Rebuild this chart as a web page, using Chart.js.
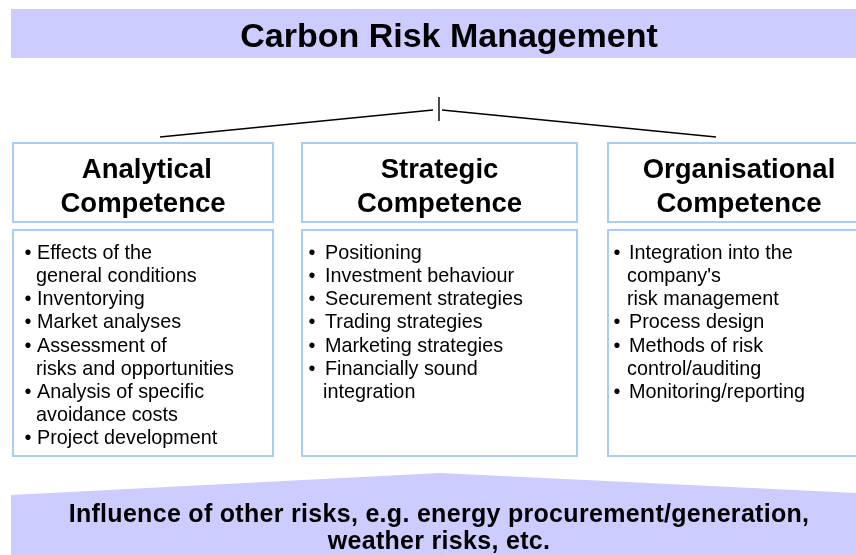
<!DOCTYPE html>
<html>
<head>
<meta charset="utf-8">
<script src="https://cdn.jsdelivr.net/npm/chart.js@4.4.1/dist/chart.umd.min.js"></script>
<style>
  html, body { margin: 0; padding: 0; background: #fff; }
  canvas { display: block; }
</style>
</head>
<body>
<canvas id="chart" width="856" height="555"></canvas>
<script>
// content
const title = 'Carbon Risk Management';
const headings = [
  [' Analytical', 'Competence'],
  ['Strategic', 'Competence'],
  ['Organisational', 'Competence']
];
const analyticalItems = [
  ['Effects of the', 'general conditions'],
  ['Inventorying'],
  ['Market analyses'],
  ['Assessment of', 'risks and opportunities'],
  ['Analysis of specific', 'avoidance costs'],
  ['Project development']
];
const strategicItems = [
  ['Positioning'],
  ['Investment behaviour'],
  ['Securement strategies'],
  ['Trading strategies'],
  ['Marketing strategies'],
  ['Financially sound', 'integration']
];
const organisationalItems = [
  ['Integration into the', "company's", 'risk management'],
  ['Process design'],
  ['Methods of risk', 'control/auditing'],
  ['Monitoring/reporting']
];
const footer = ['Influence of other risks, e.g. energy procurement/generation,', 'weather risks, etc.'];

// layout (diagram units = pixels of the 856x555 picture)
const layout = {
  band: { x0: 11, x1: 856, y0: 9, y1: 58 },
  cols: [
    { x0: 13, x1: 273, bullet: 28, text: 37, wrap: 36 },
    { x0: 302, x1: 577, bullet: 312, text: 325, wrap: 323 },
    { x0: 608, x1: 872, bullet: 617, text: 629, wrap: 627 }
  ],
  head: { y0: 143, y1: 222 },
  body: { y0: 230, y1: 456 },
  firstLine: 259, lineStep: 23.15,
  footerShape: [[11, 555], [11, 495], [440, 473], [856, 493], [856, 555]],
  connectors: [
    [[160, 137], [433, 110]],
    [[442, 110], [716, 137]],
    [[439, 97], [439, 121]]
  ]
};

const colItems = [analyticalItems, strategicItems, organisationalItems];

const diagramPlugin = {
  id: 'diagram',
  beforeDatasetsDraw(chart) {
    const ctx = chart.ctx;
    const sx = v => chart.scales.x.getPixelForValue(v);
    const sy = v => chart.scales.y.getPixelForValue(v);
    ctx.save();

    // title band
    const b = layout.band;
    ctx.fillStyle = '#ccccff';
    ctx.fillRect(sx(b.x0), sy(b.y0), sx(b.x1) - sx(b.x0), sy(b.y1) - sy(b.y0));
    ctx.fillStyle = '#000';
    ctx.textAlign = 'center';
    ctx.textBaseline = 'alphabetic';
    ctx.font = 'bold 34px "Liberation Sans", Arial, sans-serif';
    ctx.fillText(title, sx(449), sy(47));

    // boxes
    ctx.strokeStyle = '#a8cdf8';
    ctx.lineWidth = 2;
    layout.cols.forEach((c, i) => {
      ctx.strokeRect(sx(c.x0), sy(layout.head.y0), sx(c.x1) - sx(c.x0), sy(layout.head.y1) - sy(layout.head.y0));
      ctx.strokeRect(sx(c.x0), sy(layout.body.y0), sx(c.x1) - sx(c.x0), sy(layout.body.y1) - sy(layout.body.y0));

      const cx = (c.x0 + Math.min(c.x1, 870)) / 2;
      ctx.fillStyle = '#000';
      ctx.textAlign = 'center';
      ctx.font = 'bold 27.5px "Liberation Sans", Arial, sans-serif';
      ctx.fillText(headings[i][0], sx(cx), sy(178));
      ctx.fillText(headings[i][1], sx(cx), sy(212));

      ctx.textAlign = 'left';
      ctx.font = '19.8px "Liberation Sans", Arial, sans-serif';
      let line = 0;
      colItems[i].forEach(item => {
        item.forEach((t, k) => {
          const y = sy(layout.firstLine + line * layout.lineStep);
          if (k === 0) {
            ctx.textAlign = 'center';
            ctx.fillText('\u2022', sx(c.bullet), y);
            ctx.textAlign = 'left';
            ctx.fillText(t, sx(c.text), y);
          } else {
            ctx.fillText(t, sx(c.wrap), y);
          }
          line++;
        });
      });
    });

    // footer shape
    ctx.fillStyle = '#ccccff';
    ctx.beginPath();
    layout.footerShape.forEach((p, i) => {
      if (i === 0) ctx.moveTo(sx(p[0]), sy(p[1]));
      else ctx.lineTo(sx(p[0]), sy(p[1]));
    });
    ctx.closePath();
    ctx.fill();
    ctx.fillStyle = '#000';
    ctx.textAlign = 'center';
    ctx.font = 'bold 25px "Liberation Sans", Arial, sans-serif';
    ctx.letterSpacing = '0.3px';
    ctx.fillText(footer[0], sx(439), sy(522));
    ctx.fillText(footer[1], sx(439), sy(549));
    ctx.restore();
  }
};

new Chart(document.getElementById('chart'), {
  type: 'scatter',
  data: {
    datasets: layout.connectors.map(seg => ({
      data: seg.map(p => ({ x: p[0], y: p[1] })),
      showLine: true,
      borderColor: '#000',
      borderWidth: 1.4,
      pointRadius: 0
    }))
  },
  options: {
    responsive: false,
    animation: false,
    layout: { padding: 0 },
    scales: {
      x: { type: 'linear', min: 0, max: 856, display: false },
      y: { type: 'linear', min: 0, max: 555, reverse: true, display: false }
    },
    plugins: { legend: { display: false }, tooltip: { enabled: false } }
  },
  plugins: [diagramPlugin]
});
</script>
</body>
</html>
